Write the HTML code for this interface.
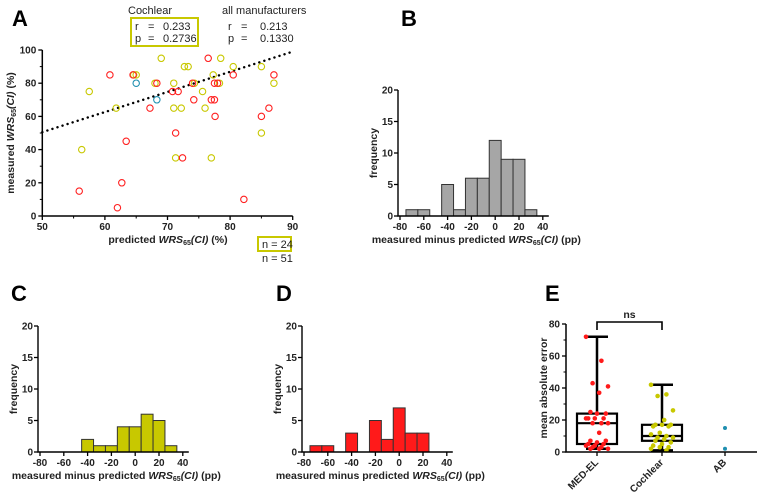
<!DOCTYPE html>
<html><head><meta charset="utf-8"><style>
body{margin:0;background:#fff}
svg{display:block;font-family:"Liberation Sans",Arial,sans-serif}
.tk{font-size:10px;font-weight:bold;fill:#222}
.ti{font-size:10.5px;font-weight:bold;fill:#222}
.pl{font-size:22px;font-weight:bold}
.st{font-size:11px;fill:#222}
</style></head><body>
<svg id="fig" width="764" height="496" viewBox="0 0 764 496">
<text class="pl" x="12" y="26">A</text>
<text class="pl" x="401" y="26">B</text>
<text class="pl" x="11" y="301">C</text>
<text class="pl" x="276" y="301">D</text>
<text class="pl" x="545" y="301">E</text>
<g>
<text class="st" x="128" y="14">Cochlear</text>
<rect x="131" y="18" width="67" height="28" fill="none" stroke="#c8c800" stroke-width="2"/>
<text class="st" x="135" y="30">r</text><text class="st" x="148" y="30">=</text><text class="st" x="163" y="30">0.233</text>
<text class="st" x="135" y="42">p</text><text class="st" x="148" y="42">=</text><text class="st" x="163" y="42">0.2736</text>
<text class="st" x="222" y="14">all manufacturers</text>
<text class="st" x="228" y="30">r</text><text class="st" x="241" y="30">=</text><text class="st" x="260" y="30">0.213</text>
<text class="st" x="228" y="42">p</text><text class="st" x="241" y="42">=</text><text class="st" x="260" y="42">0.1330</text>
<rect x="258" y="237" width="33" height="14" fill="none" stroke="#c8c800" stroke-width="2"/>
<text class="st" x="262" y="248">n = 24</text>
<text class="st" x="262" y="262">n = 51</text>
</g>
<g id="A"></g><g id="B"></g><g id="C"></g><g id="D"></g><g id="E"></g>
</svg>
<script>
// Panel A data
const cochX=[69,72.7,73.3,78.5,80.5,85,65,77.3,57.5,68,71,74.3,78.3,87,75.6,61.8,71,72.2,76,85,56.3,71.3,77,64.6];
const cochY=[95,90,90,95,90,90,85,85,75,80,80,80,80,80,75,65,65,65,65,50,40,35,35,85];
const medX=[76.5,60.8,64.5,80.5,87,68.3,74,77.5,78,70.8,71.7,77,77.5,74.2,67.2,86.2,77.6,85,71.3,63.4,72.4,62.7,55.9,82.2,62];
const medY=[95,85,85,85,85,80,80,80,80,75,75,70,70,70,65,65,60,60,50,45,35,20,15,10,5];
const abX=[65,68.3];
const abY=[80,70];
const fitX=[50,90];
const fitY=[50.5,99];
const aXTicks=[50,60,70,80,90];
const aYTicks=[0,20,40,60,80,100];
// Histograms
const binCenters=[-70,-60,-50,-40,-30,-20,-10,0,10,20,30];
const histAll=[1,1,0,5,1,6,6,12,9,9,1];
const histCoch=[0,0,0,2,1,1,4,4,6,5,1];
const histMed=[1,1,0,3,0,5,2,7,3,3,0];
const hXTicks=[-80,-60,-40,-20,0,20,40];
const hYTicks=[0,5,10,15,20];
// Panel E
const groups=["MED-EL","Cochlear","AB"];
const medErr=[72,57,43,41,37,25,24,24,21,21,21,21,18,18,18,12,7,7,6,5,5,4,4,3,3,2,2,2];
const cochErr=[42,36,35,26,20,17,17,17,16,16,12,11,10,9,9,8,7,6,5,4,3,3,2,1];
const abErr=[15,2];
const boxMin=[2,1];const boxQ1=[5,7];const boxMed=[18,10];const boxQ3=[24,17];const boxMax=[72,42];
const eYTicks=[0,20,40,60,80];

const NS="http://www.w3.org/2000/svg";
function mk(p,t,a){const e=document.createElementNS(NS,t);for(const k in a)e.setAttribute(k,a[k]);p.appendChild(e);return e;}
function txt(p,x,y,s,cls,anchor){const e=mk(p,'text',{x:x,y:y,class:cls,'text-anchor':anchor||'middle'});e.textContent=s;return e;}

// ---- Panel A
(function(){
const g=document.getElementById('A');
const X=v=>42.3+(v-50)*6.26, Y=v=>216-(v)*1.66;
const fit=mk(g,'line',{x1:X(fitX[0]),y1:Y(fitY[0]),x2:X(fitX[1]),y2:Y(fitY[1]),stroke:'#000','stroke-width':2.4,'stroke-dasharray':'0.1 5.2','stroke-linecap':'round'});


function pts(xs,ys,c,n){xs.forEach((v,i)=>{const e=mk(g,'circle',{cx:X(v),cy:Y(ys[i]),r:3.2,fill:'none',stroke:c,'stroke-width':1.1});

});}
pts(cochX,cochY,'#c8c800','cochlear-point');
pts(medX,medY,'#ff2020','med-el-point');
pts(abX,abY,'#1f8fb0','ab-point');
mk(g,'path',{d:`M${X(50)} ${Y(100)}V${Y(0)}H${X(90)}`,fill:'none',stroke:'#000','stroke-width':1.5});
aXTicks.forEach(t=>{mk(g,'line',{x1:X(t),x2:X(t),y1:Y(0),y2:Y(0)+4,stroke:'#000','stroke-width':1.3});txt(g,X(t),Y(0)+14,t,'tk');});
for(let t=55;t<90;t+=10)mk(g,'line',{x1:X(t),x2:X(t),y1:Y(0),y2:Y(0)+2.5,stroke:'#000'});
aYTicks.forEach(t=>{mk(g,'line',{x1:X(50)-4,x2:X(50),y1:Y(t),y2:Y(t),stroke:'#000','stroke-width':1.3});txt(g,X(50)-6,Y(t)+3.5,t,'tk','end');});
for(let t=10;t<100;t+=20)mk(g,'line',{x1:X(50)-2.5,x2:X(50),y1:Y(t),y2:Y(t),stroke:'#000'});
const xt=mk(g,'text',{x:168,y:243,class:'ti','text-anchor':'middle'});xt.innerHTML='predicted <tspan font-style="italic">WRS</tspan><tspan font-size="7" dy="2">65</tspan><tspan font-style="italic" dy="-2">(CI)</tspan> (%)';

const yt=mk(g,'text',{x:0,y:0,class:'ti','text-anchor':'middle',transform:'translate(14,133) rotate(-90)'});yt.innerHTML='measured <tspan font-style="italic">WRS</tspan><tspan font-size="7" dy="2">65</tspan><tspan font-style="italic" dy="-2">(CI)</tspan> (%)';

})();

// ---- Histograms
function hist(id,x0,y0,data,color,name){
const g=document.getElementById(id);
const X=v=>x0+(v+80)*1.19, Y=v=>y0-v*6.3;
data.forEach((c,i)=>{if(!c)return;const b=binCenters[i];
const r=mk(g,'rect',{x:X(b-5),y:Y(c),width:X(b+5)-X(b-5),height:Y(0)-Y(c),fill:color,stroke:'#333','stroke-width':1});

});
mk(g,'path',{d:`M${X(-80)-2} ${Y(20)}V${Y(0)}H${X(40)+6}`,fill:'none',stroke:'#000','stroke-width':1.4});
hXTicks.forEach(t=>{mk(g,'line',{x1:X(t),x2:X(t),y1:Y(0),y2:Y(0)+4,stroke:'#000','stroke-width':1.3});txt(g,X(t),Y(0)+14,t,'tk');});
hYTicks.forEach(t=>{mk(g,'line',{x1:X(-80)-6,x2:X(-80)-2,y1:Y(t),y2:Y(t),stroke:'#000','stroke-width':1.3});txt(g,X(-80)-7,Y(t)+3.5,t,'tk','end');});
const xt=mk(g,'text',{x:X(-20)+5,y:Y(0)+27,class:'ti','text-anchor':'middle'});xt.innerHTML='measured minus predicted <tspan font-style="italic">WRS</tspan><tspan font-size="7" dy="2">65</tspan><tspan font-style="italic" dy="-2">(CI)</tspan> (pp)';

const yt=txt(g,0,0,'frequency','ti');yt.setAttribute('transform',`translate(${X(-80)-23},${Y(10)}) rotate(-90)`);

}
hist('B',400,216,histAll,'#a6a6a6','all-hist');
hist('C',40,452,histCoch,'#c8c800','cochlear-hist');
hist('D',304,452,histMed,'#ff1a1a','med-el-hist');

// ---- Panel E
(function(){
const g=document.getElementById('E');
const cx=[597,662,725];const Y=v=>452-v*1.6;
for(let i=0;i<2;i++){
mk(g,'line',{x1:cx[i],x2:cx[i],y1:Y(boxMax[i]),y2:Y(boxMin[i]),stroke:'#000','stroke-width':2.5});
mk(g,'line',{x1:cx[i]-11,x2:cx[i]+11,y1:Y(boxMax[i]),y2:Y(boxMax[i]),stroke:'#000','stroke-width':2.5});
mk(g,'line',{x1:cx[i]-11,x2:cx[i]+11,y1:Y(boxMin[i]),y2:Y(boxMin[i]),stroke:'#000','stroke-width':2.5});
const b=mk(g,'rect',{x:cx[i]-20,y:Y(boxQ3[i]),width:40,height:Y(boxQ1[i])-Y(boxQ3[i]),fill:'#fff',stroke:'#000','stroke-width':2.2});


mk(g,'line',{x1:cx[i]-20,x2:cx[i]+20,y1:Y(boxMed[i]),y2:Y(boxMed[i]),stroke:'#000','stroke-width':2.2});
}
function dots(arr,i,c,n){arr.forEach((v,k)=>{const j=((k*7)%11-5)*2.2;
const e=mk(g,'circle',{cx:cx[i]+j,cy:Y(v),r:2.3,fill:c});

});}
dots(medErr,0,'#ff1a1a','med-el-error-point');
dots(cochErr,1,'#c8c800','cochlear-error-point');
abErr.forEach(v=>{const e=mk(g,'circle',{cx:cx[2],cy:Y(v),r:2,fill:'#1f8fb0'});

});
mk(g,'path',{d:`M566 ${Y(80)}V${Y(0)}H757`,fill:'none',stroke:'#000','stroke-width':1.5});
eYTicks.forEach(t=>{mk(g,'line',{x1:562,x2:566,y1:Y(t),y2:Y(t),stroke:'#000','stroke-width':1.3});txt(g,560,Y(t)+3.5,t,'tk','end');});
for(let t=10;t<80;t+=20)mk(g,'line',{x1:563.5,x2:566,y1:Y(t),y2:Y(t),stroke:'#000'});
groups.forEach((s,i)=>{mk(g,'line',{x1:cx[i],x2:cx[i],y1:Y(0),y2:Y(0)+4,stroke:'#000','stroke-width':1.3});
const t=txt(g,0,0,s,'tk','end');t.setAttribute('transform',`translate(${cx[i]+2},${Y(0)+11}) rotate(-45)`);
});
mk(g,'path',{d:`M${cx[0]} 330V322H${cx[1]}V330`,fill:'none',stroke:'#000','stroke-width':1.6});
txt(g,(cx[0]+cx[1])/2,318,'ns','ti');
const yt=txt(g,0,0,'mean absolute error','ti');yt.setAttribute('transform',`translate(547,${Y(40)}) rotate(-90)`);

})();
</script>
</body></html>
